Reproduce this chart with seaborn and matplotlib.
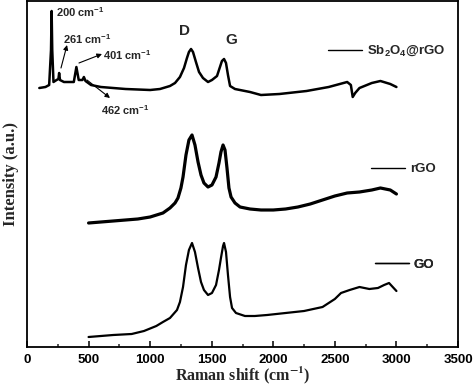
import numpy as np
import pandas as pd
import seaborn as sns
import matplotlib.pyplot as plt
from matplotlib.lines import Line2D

# Raman spectra (intensity in arbitrary, stacked units)
sb_shift = [100, 150, 180, 195, 200, 205, 215, 240, 255, 261, 268, 300, 380, 401, 420,
            450, 462, 475, 520, 600, 800, 1000, 1080, 1161, 1202, 1242, 1275, 1299,
            1315, 1332, 1348, 1372, 1397, 1429, 1470, 1502, 1543, 1567, 1583, 1600,
            1616, 1632, 1649, 1689, 1811, 1900, 2050, 2270, 2450, 2600, 2630, 2645,
            2665, 2700, 2800, 2870, 2950, 3000]
sb_int = [259, 260, 262, 297, 336, 297, 265, 267, 268, 274, 267, 265, 265, 280, 267,
          267, 270, 266, 262, 260, 258, 257, 258, 261, 264, 270, 279, 289,
          295, 298, 295, 285, 275, 269, 265, 267, 271, 280, 286, 288,
          284, 272, 261, 258, 255, 252, 253, 256, 260, 265, 262, 250,
          254, 259, 264, 266, 263, 260]

rgo_shift = [500, 600, 700, 800, 900, 1000, 1104, 1161, 1202, 1226, 1250, 1267, 1291,
             1315, 1340, 1364, 1389, 1413, 1437, 1470, 1502, 1535, 1559, 1575, 1592,
             1608, 1624, 1640, 1657, 1689, 1730, 1811, 1900, 2000, 2100, 2200, 2300,
             2400, 2500, 2600, 2700, 2800, 2870, 2950, 3000]
rgo_int = [124, 125, 126, 127, 128, 130, 134, 139, 144, 149, 159, 170, 192,
           207, 212, 202, 185, 172, 164, 160, 162, 170, 184, 195, 202,
           197, 179, 159, 150, 144, 140, 138, 137, 137, 138, 140, 143,
           147, 151, 154, 155, 157, 159, 157, 153]

go_shift = [500, 700, 850, 950, 1050, 1104, 1161, 1218, 1242, 1267, 1291, 1315, 1340,
            1364, 1389, 1413, 1437, 1470, 1502, 1535, 1559, 1575, 1592, 1600, 1616,
            1632, 1649, 1665, 1697, 1770, 1850, 1950, 2100, 2250, 2400, 2500, 2550,
            2620, 2700, 2780, 2850, 2900, 2940, 3000]
go_int = [10, 12, 13, 16, 21, 25, 29, 37, 45, 60, 82, 97, 104,
          95, 79, 65, 57, 52, 54, 62, 77, 89, 101, 104, 95,
          72, 50, 39, 34, 31, 31, 32, 34, 36, 40, 48, 54,
          57, 60, 58, 59, 62, 64, 56]

series_names = ['Sb$_\\mathbf{2}$O$_\\mathbf{4}$@rGO', 'rGO', 'GO']
x_ticks = [0, 500, 1000, 1500, 2000, 2500, 3000, 3500]

sns.set_theme(style='ticks')
plt.rcParams['font.family'] = ['Liberation Sans', 'DejaVu Sans']
plt.rcParams['mathtext.fontset'] = 'custom'
plt.rcParams['mathtext.bf'] = 'Liberation Sans:bold'
plt.rcParams['mathtext.rm'] = 'Liberation Sans:bold'
plt.rcParams['mathtext.default'] = 'bf'

fig = plt.figure(figsize=(4.74, 3.86), dpi=100)
ax = fig.add_axes([27 / 474, 1 - 347 / 386, 431 / 474, 346 / 386])

frames = [
    pd.DataFrame({'shift': sb_shift, 'intensity': sb_int}),
    pd.DataFrame({'shift': rgo_shift, 'intensity': rgo_int}),
    pd.DataFrame({'shift': go_shift, 'intensity': go_int}),
]
widths = [1.8, 2.3, 1.6]
for df, lw in zip(frames, widths):
    sns.lineplot(data=df, x='shift', y='intensity', ax=ax, color='black',
                 linewidth=lw, estimator=None, sort=False)

ax.set_xlim(0, 3500)
ax.set_ylim(0, 346)
ax.set_xticks(x_ticks)
ax.set_xticks(np.arange(250, 3500, 500), minor=True)
ax.set_yticks([])
ax.tick_params(axis='x', which='major', direction='in', length=4, width=1.1,
               labelsize=9.5, pad=5, colors='black')
ax.tick_params(axis='x', which='minor', direction='in', length=2.5, width=1.1)
for lab in ax.get_xticklabels():
    lab.set_fontweight('bold')
for sp in ax.spines.values():
    sp.set_visible(True)
    sp.set_linewidth(1.3)
    sp.set_color('black')

ax.set_xlabel('Raman shift (cm$^{\\mathbf{-1}}$)', family='Liberation Serif',
              fontweight='bold', fontsize=11.5, labelpad=-1, math_fontfamily='stix')
ax.set_ylabel('Intensity (a.u.)', family='Liberation Serif', fontweight='bold',
              fontsize=12, labelpad=6)

# peak labels
txt = dict(fontsize=8, fontweight='bold', va='center', ha='left')
ax.text(235, 335, '200 cm$^{-1}$', **txt)
ax.text(292, 308, '261 cm$^{-1}$', **txt)
ax.text(617, 292, '401 cm$^{-1}$', **txt)
ax.text(601, 237, '462 cm$^{-1}$', **txt)
arrow = dict(arrowstyle='-|>', color='black', lw=0.8, mutation_scale=7,
             shrinkA=0, shrinkB=0)
ax.annotate('', xy=(325, 302), xytext=(276, 279), arrowprops=arrow)
ax.annotate('', xy=(609, 293), xytext=(422, 284), arrowprops=arrow)
ax.annotate('', xy=(674, 249), xytext=(487, 267), arrowprops=arrow)
ax.text(1283, 316, 'D', fontsize=11, fontweight='bold', ha='center', va='center')
ax.text(1657, 307, 'G', fontsize=11, fontweight='bold', ha='center', va='center')

# one small legend next to each curve
anchors = [(0.698, 0.855), (0.798, 0.514), (0.807, 0.237)]
for name, (fx, fy) in zip(series_names, anchors):
    h = Line2D([], [], color='black', linewidth=1.0)
    leg = ax.legend([h], [name], loc='center left', bbox_to_anchor=(fx, fy),
                    frameon=False, borderpad=0, borderaxespad=0, handlelength=2.6,
                    handletextpad=0.35, prop={'weight': 'bold', 'size': 9.5})
    ax.add_artist(leg)

fig.savefig('out.png', dpi=100)
